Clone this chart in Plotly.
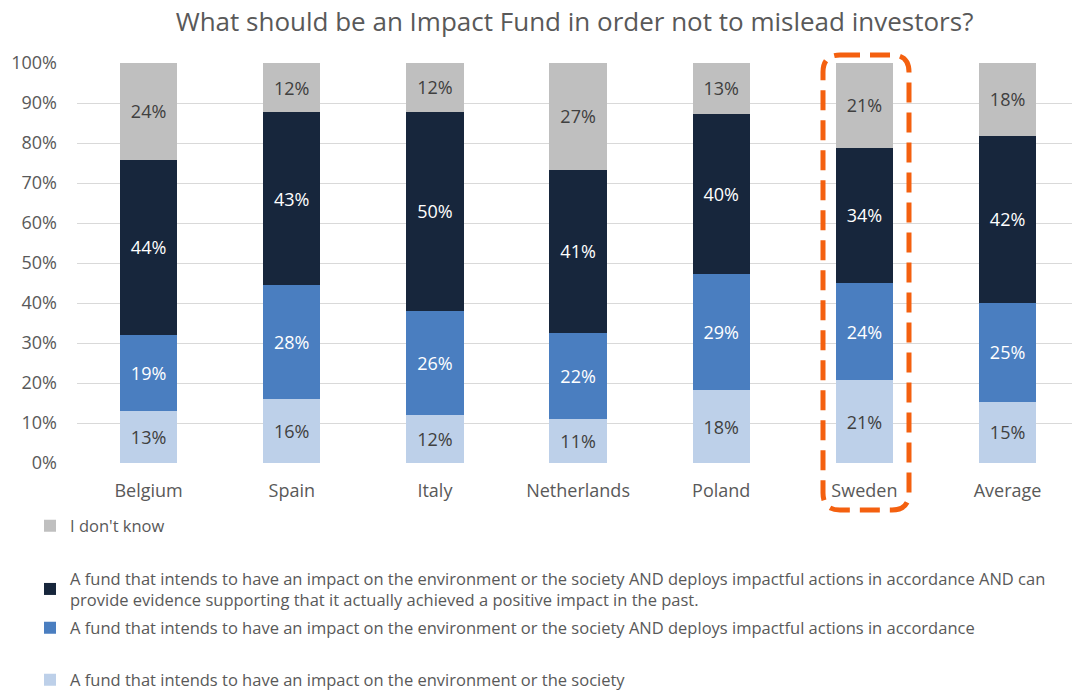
import plotly.graph_objects as go

categories = ["Belgium", "Spain", "Italy", "Netherlands", "Poland", "Sweden", "Average"]
light = [13, 16, 12, 11, 18.2, 20.7, 15.3]
blue = [19, 28.4, 26, 21.6, 29.1, 24.3, 24.7]
dark = [43.8, 43.3, 49.8, 40.7, 40, 33.8, 41.8]
gray = [24.2, 12.3, 12.2, 26.7, 12.7, 21.2, 18.2]

series_names = [
    "A fund that intends to have an impact on the environment or the society",
    "A fund that intends to have an impact on the environment or the society AND deploys impactful actions in accordance",
    "A fund that intends to have an impact on the environment or the society AND deploys impactful actions in accordance AND can<br>provide evidence supporting that it actually achieved a positive impact in the past.",
    "I don't know",
]
series_values = [light, blue, dark, gray]
colors = ["#BDD0E9", "#4A7EC0", "#17263C", "#BFBFBF"]
text_colors = ["#404040", "#FFFFFF", "#FFFFFF", "#404040"]
legend_ids = ["legend4", "legend3", "legend2", "legend"]

FONT = "Open Sans"

fig = go.Figure()
for name, vals, c, tc, lg in zip(series_names, series_values, colors, text_colors, legend_ids):
    fig.add_trace(go.Bar(
        x=categories, y=vals, name=name, marker=dict(color=c, line=dict(width=0)),
        width=0.4, texttemplate="%{y:.0f}%", textposition="inside",
        insidetextanchor="middle", textangle=0, constraintext="none",
        textfont=dict(color=tc, size=18, family=FONT), legend=lg,
        hoverinfo="skip",
    ))

# plot geometry (pixels)
W, H = 1072, 691
L, R, T, B = 77, 0, 63, 228
pw, ph = W - L - R, H - T - B

def px(x):
    return (x - L) / pw

def py(y):
    return (H - B - y) / ph

# rounded dashed highlight box around Sweden
x0, x1, y0, y1, r = 823, 909, 55, 510, 17
path = (
    f"M {px(x0 + r)},{py(y0)} L {px(x1 - r)},{py(y0)} "
    f"Q {px(x1)},{py(y0)} {px(x1)},{py(y0 + r)} "
    f"L {px(x1)},{py(y1 - r)} Q {px(x1)},{py(y1)} {px(x1 - r)},{py(y1)} "
    f"L {px(x0 + r)},{py(y1)} Q {px(x0)},{py(y1)} {px(x0)},{py(y1 - r)} "
    f"L {px(x0)},{py(y0 + r)} Q {px(x0)},{py(y0)} {px(x0 + r)},{py(y0)} Z"
)
fig.add_shape(type="path", path=path, xref="paper", yref="paper",
              line=dict(color="#F4600F", width=5, dash="20px,10px"))

leg_common = dict(orientation="v", xanchor="left", yanchor="middle",
                  xref="container", yref="container",
                  bgcolor="rgba(0,0,0,0)", borderwidth=0,
                  font=dict(family=FONT, size=16.5, color="#595959"),
                  itemclick=False, itemdoubleclick=False)
lx = 30 / W
fig.update_layout(
    showlegend=True,
    legend=dict(x=lx, y=1 - 526 / H, **leg_common),
    legend2=dict(x=lx, y=1 - 589 / H, **leg_common),
    legend3=dict(x=lx, y=1 - 628 / H, **leg_common),
    legend4=dict(x=lx, y=1 - 680 / H, **leg_common),
)

fig.update_layout(
    width=W, height=H,
    barmode="stack",
    paper_bgcolor="white", plot_bgcolor="white",
    margin=dict(l=L, r=R, t=T, b=B, autoexpand=False),
    title=dict(text="What should be an Impact Fund in order not to mislead investors?",
               x=0.5, xref="paper", xanchor="center", y=1 - 22 / H, yanchor="middle",
               font=dict(family=FONT, size=26, color="#595959")),
    font=dict(family=FONT, color="#595959"),
    xaxis=dict(range=[-0.5, 6.45], showgrid=False, zeroline=False, showline=False,
               ticks="", ticklabelstandoff=15,
               tickfont=dict(size=18, color="#595959", family=FONT)),
    yaxis=dict(range=[0, 100], tickvals=list(range(0, 101, 10)),
               ticktext=[f"{v}%" for v in range(0, 101, 10)],
               showgrid=True, gridcolor="#D9D9D9", gridwidth=1, zeroline=False,
               showline=False, ticks="", ticklabelstandoff=19,
               tickfont=dict(size=18, color="#595959", family=FONT)),
)

fig.write_html("out.html", config={"displayModeBar": False},
               post_script="document.body.style.margin='0';document.body.style.padding='0';")
